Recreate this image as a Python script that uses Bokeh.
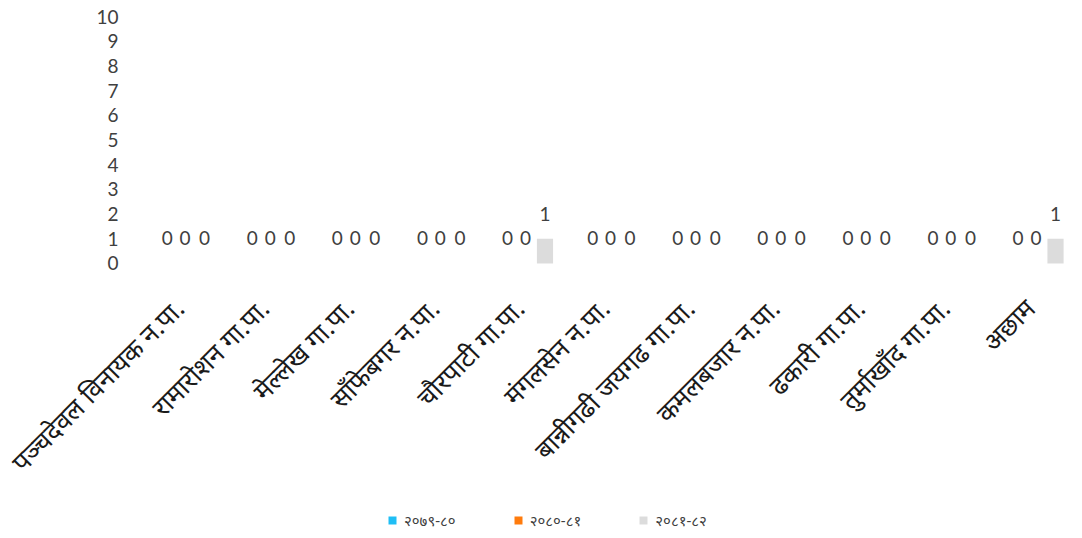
import math
from bokeh.plotting import figure
from bokeh.models import ColumnDataSource, FixedTicker, Range1d, LabelSet, Legend, LegendItem
from bokeh.core.properties import value
from bokeh.transform import dodge
from bokeh.embed import file_html
from bokeh.resources import INLINE

categories = [
    "पञ्चदेवल विनायक न.पा.",
    "रामारोशन गा.पा.",
    "मेल्लेख गा.पा.",
    "साँफेबगर न.पा.",
    "चौरपाटी गा.पा.",
    "मंगलसेन न.पा.",
    "बान्नीगढी जयगढ गा.पा.",
    "कमलबजार न.पा.",
    "ढकारी गा.पा.",
    "तुर्माखाँद गा.पा.",
    "अछाम",
]
series_names = ["२०७९-८०", "२०८०-८१", "२०८१-८२"]
values_7980 = [0, 0, 0, 0, 0, 0, 0, 0, 0, 0, 0]
values_8081 = [0, 0, 0, 0, 0, 0, 0, 0, 0, 0, 0]
values_8182 = [0, 0, 0, 0, 1, 0, 0, 0, 0, 0, 1]
colors = ["#1FBEF5", "#FF7B0C", "#DCDCDC"]
y_ticks = [0, 1, 2, 3, 4, 5, 6, 7, 8, 9, 10]

series_values = [values_7980, values_8081, values_8182]
offsets = [-0.21, 0.0, 0.23]
cat_pos = list(range(len(categories)))

# frame covers the whole canvas so the rotated category labels, the top tick label
# and the legend are not clipped; the y axis is pinned at the left edge of the first category
p = figure(x_range=Range1d(-2.169, 10.5), y_range=Range1d(-10.81, 10.648),
           frame_width=1078, frame_height=530,
           output_backend="svg", toolbar_location=None, x_axis_location=None,
           min_border_left=0, min_border_right=0, min_border_top=0, min_border_bottom=0)

p.xgrid.grid_line_color = None
p.ygrid.grid_line_color = None
p.outline_line_color = None
p.background_fill_color = "white"
p.border_fill_color = "white"

font = "Lato"
items = []
for name, vals, off, col in zip(series_names, series_values, offsets, colors):
    src = ColumnDataSource(dict(pos=cat_pos, cat=categories, val=vals, lbl=[str(v) for v in vals]))
    r = p.vbar(x=dodge("pos", off), top="val", width=0.19, source=src,
               fill_color=col, line_color=None)
    items.append(LegendItem(label=name, renderers=[r]))
    labels = LabelSet(x=dodge("pos", off), y="val", text="lbl", source=src,
                      y_offset=25, text_align="center", text_baseline="middle",
                      text_font=value(font), text_font_size=value("19px"),
                      text_color=value("#404040"))
    p.add_layout(labels)

cat_src = ColumnDataSource(dict(pos=cat_pos, cat=categories, base=[0] * len(categories)))
cat_labels = LabelSet(x="pos", y="base", text="cat", source=cat_src,
                      angle=math.pi / 4, x_offset=-6, y_offset=-40,
                      text_align="right", text_baseline="middle",
                      text_font=value("Noto Sans"), text_font_size=value("26px"),
                      text_color=value("#1a1a1a"))
p.add_layout(cat_labels)

p.yaxis.fixed_location = -0.5
p.yaxis.ticker = FixedTicker(ticks=y_ticks)
p.yaxis.axis_line_color = None
p.yaxis.major_tick_line_color = None
p.yaxis.minor_tick_line_color = None
p.yaxis.major_label_text_font = font
p.yaxis.major_label_text_font_size = "19px"
p.yaxis.major_label_text_color = "#404040"
p.yaxis.major_label_standoff = 18

legend = Legend(items=items, orientation="horizontal", location=(387, 0),
                glyph_width=10, glyph_height=10, spacing=57, label_standoff=7,
                label_text_font="Noto Sans", label_text_font_size="15px",
                label_text_color="#404040", border_line_color=None,
                background_fill_alpha=0, margin=0, padding=0)
p.add_layout(legend, "center")

open("out.html", "w").write(file_html(p, INLINE))
